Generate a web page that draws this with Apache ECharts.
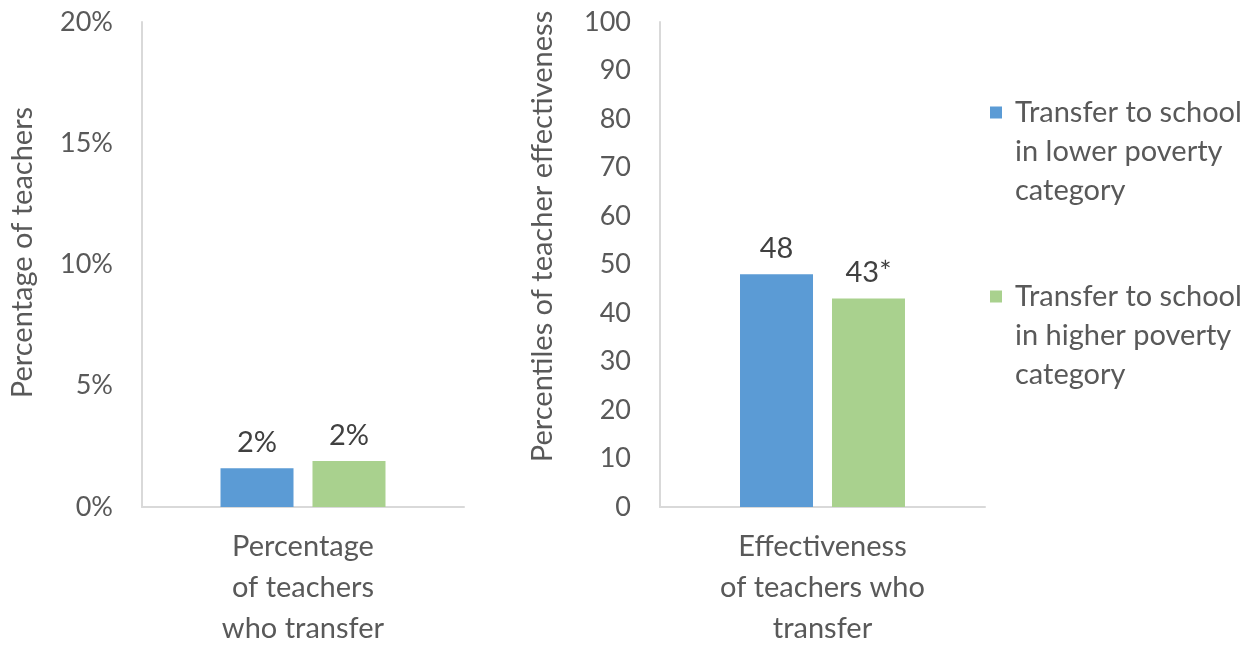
<!DOCTYPE html>
<html>
<head>
<meta charset="utf-8">
<script src="https://cdn.jsdelivr.net/npm/echarts@6/dist/echarts.min.js"></script>
<style>
  html, body { margin: 0; padding: 0; background: #fff; }
  #chart { width: 1260px; height: 649px; }
</style>
</head>
<body>
<div id="chart"></div>
<script>
// Series names (legend)
const seriesNames = [
  'Transfer to school in lower poverty category',
  'Transfer to school in higher poverty category'
];
const legendLabels = [
  'Transfer to school\nin lower poverty\ncategory',
  'Transfer to school\nin higher poverty\ncategory'
];
const seriesColors = ['#5b9bd5', '#a9d18e'];

// Left panel: share of teachers who transfer (%)
const leftCategory = ['Percentage\nof teachers\nwho transfer'];
const leftLower = [1.6];
const leftHigher = [1.9];
const leftTicks = { min: 0, max: 20, interval: 5 };

// Right panel: effectiveness percentile of teachers who transfer
const rightCategory = ['Effectiveness\nof teachers who\ntransfer'];
const rightLower = [48];
const rightHigher = [43];
const rightMarks = ['', '*']; // significance marker per series
const rightTicks = { min: 0, max: 100, interval: 10 };

const FONT = 'Lato, "Open Sans", sans-serif';
const GREY = '#595959';
const LABEL = '#404040';
const AXIS = '#d9d9d9';
const TEXT_SIZE = 29;
const TICK_SIZE = 27;

function catAxis(gridIndex, data) {
  return {
    type: 'category', gridIndex, data,
    axisLine: { show: true, lineStyle: { color: AXIS, width: 2 } },
    axisTick: { show: false },
    axisLabel: { color: GREY, fontSize: TEXT_SIZE, fontFamily: FONT, lineHeight: 41, margin: 19 }
  };
}
function valAxis(gridIndex, t, name, fmt, gap, shift) {
  return {
    type: 'value', gridIndex, min: t.min, max: t.max, interval: t.interval,
    name, nameLocation: 'middle', nameGap: gap,
    // left padding nudges the rotated title upward along the axis
    nameTextStyle: { color: GREY, fontSize: TEXT_SIZE, fontFamily: FONT, padding: [0, 0, 0, shift] },
    axisLine: { show: true, lineStyle: { color: AXIS, width: 2 } },
    axisTick: { show: false },
    splitLine: { show: false },
    axisLabel: { color: GREY, fontSize: TICK_SIZE, fontFamily: FONT, margin: 29, formatter: fmt }
  };
}
function barSeries(name, idx, axisIdx, data, fmt) {
  return {
    type: 'bar', name, xAxisIndex: axisIdx, yAxisIndex: axisIdx, data,
    barWidth: 73, barGap: '26%',
    itemStyle: { color: seriesColors[idx] },
    label: {
      show: true, position: 'top', distance: 11,
      color: LABEL, fontSize: TEXT_SIZE, fontFamily: FONT, formatter: fmt
    }
  };
}
// Two blank lines ahead of the text keep the swatch level with the first line
function legendItem(i, top) {
  return {
    data: [seriesNames[i]], left: 990, top, orient: 'vertical', padding: 0,
    icon: 'rect', itemWidth: 12, itemHeight: 12,
    formatter: () => '\n\n' + legendLabels[i],
    textStyle: { color: GREY, fontSize: TEXT_SIZE, fontFamily: FONT, lineHeight: 39, padding: [0, 0, 0, 8] }
  };
}

const chart = echarts.init(document.getElementById('chart'), null, { renderer: 'canvas' });
chart.setOption({
  animation: false,
  backgroundColor: '#fff',
  legend: [legendItem(0, 15), legendItem(1, 199)],
  grid: [
    { left: 142, top: 22, width: 322, height: 492 },
    { left: 660, top: 22, width: 325, height: 492 }
  ],
  xAxis: [catAxis(0, leftCategory), catAxis(1, rightCategory)],
  yAxis: [
    valAxis(0, leftTicks, 'Percentage of teachers', v => v + '%', 105, 24),
    valAxis(1, rightTicks, 'Percentiles of teacher effectiveness', v => String(v), 103, 56)
  ],
  series: [
    barSeries(seriesNames[0], 0, 0, leftLower, p => Math.round(p.value) + '%'),
    barSeries(seriesNames[1], 1, 0, leftHigher, p => Math.round(p.value) + '%'),
    barSeries(seriesNames[0], 0, 1, rightLower, p => Math.round(p.value) + rightMarks[0]),
    barSeries(seriesNames[1], 1, 1, rightHigher, p => Math.round(p.value) + rightMarks[1])
  ]
});
</script>
</body>
</html>
